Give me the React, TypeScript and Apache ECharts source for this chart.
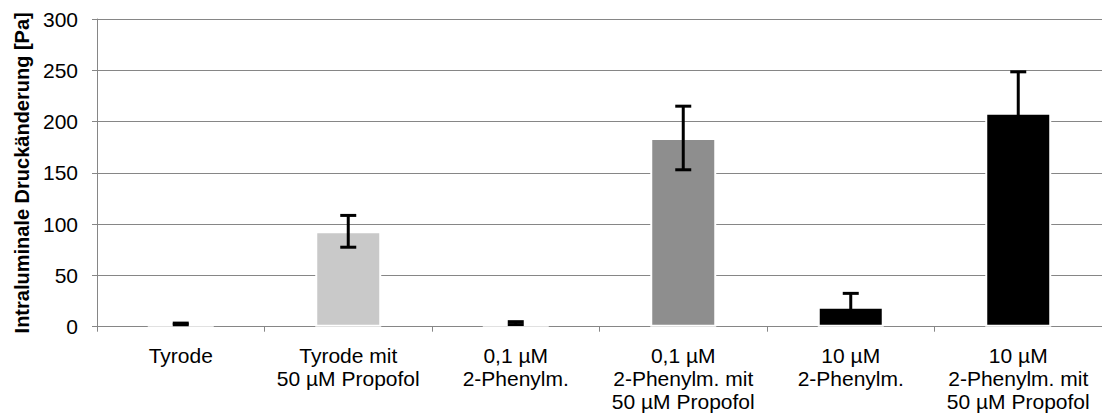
import React, { useEffect, useRef } from "react";
import * as echarts from "echarts";

const categories = [
  "Tyrode",
  "Tyrode mit\n50 µM Propofol",
  "0,1 µM\n2-Phenylm.",
  "0,1 µM\n2-Phenylm. mit\n50 µM Propofol",
  "10 µM\n2-Phenylm.",
  "10 µM\n2-Phenylm. mit\n50 µM Propofol",
];
const meanValues = [2.7, 93, 3.5, 184, 19.5, 208.5];
const errorValues = [0.8, 15.5, 1.4, 31, 13, 40];
const barColors = ["#f4f4f4", "#c9c9c9", "#dcdcdc", "#8e8e8e", "#000000", "#000000"];
const yTicks = { min: 0, max: 300, interval: 50 };
const yAxisTitle = "Intraluminale Druckänderung [Pa]";

export default function App() {
  const ref = useRef<HTMLDivElement>(null);
  useEffect(() => {
    if (!ref.current) return;
    const chart = echarts.init(ref.current, null, { renderer: "svg" });
    const font = "'Liberation Sans', Arial, sans-serif";
    const errData = meanValues.map((v, i) => [
      i,
      Math.max(0, v - errorValues[i]),
      v + errorValues[i],
    ]);
    chart.setOption({
      animation: false,
      backgroundColor: "#ffffff",
      grid: { left: 97, right: -4, top: 19, bottom: 89.3 },
      xAxis: {
        type: "category",
        data: categories,
        axisLine: { lineStyle: { color: "#868686", width: 1 } },
        axisTick: { show: true, length: 5, alignWithLabel: false, lineStyle: { color: "#868686" } },
        axisLabel: {
          color: "#000",
          fontFamily: font,
          fontSize: 21,
          lineHeight: 23,
          margin: 17,
          interval: 0,
        },
      },
      yAxis: {
        type: "value",
        min: yTicks.min,
        max: yTicks.max,
        interval: yTicks.interval,
        name: yAxisTitle,
        nameLocation: "middle",
        nameGap: 63,
        nameTextStyle: { color: "#000", fontFamily: font, fontSize: 20, fontWeight: "bold" },
        axisLine: { show: true, lineStyle: { color: "#868686", width: 1 } },
        axisTick: { show: true, length: 5, lineStyle: { color: "#868686" } },
        axisLabel: { color: "#000", fontFamily: font, fontSize: 21, margin: 19 },
        splitLine: { show: true, lineStyle: { color: "#868686", width: 1 } },
      },
      series: [
        {
          type: "bar",
          barWidth: 66,
          data: meanValues.map((v, i) => ({
            value: v,
            itemStyle: { color: barColors[i], borderColor: "#ffffff", borderWidth: 2 },
          })),
          z: 2,
        },
        {
          type: "custom",
          z: 5,
          data: errData,
          renderItem: (params: any, api: any) => {
            const x = api.value(0);
            const lo = api.coord([x, api.value(1)]);
            const hi = api.coord([x, api.value(2)]);
            const hw = 8;
            const style = { stroke: "#000", lineWidth: 3 };
            return {
              type: "group",
              children: [
                { type: "line", shape: { x1: hi[0], y1: hi[1], x2: lo[0], y2: lo[1] }, style },
                { type: "line", shape: { x1: hi[0] - hw, y1: hi[1], x2: hi[0] + hw, y2: hi[1] }, style },
                { type: "line", shape: { x1: lo[0] - hw, y1: lo[1], x2: lo[0] + hw, y2: lo[1] }, style },
              ],
            };
          },
        },
      ],
    });
    return () => chart.dispose();
  }, []);
  return (
    <div
      ref={ref}
      style={{ position: "fixed", left: 0, top: 0, width: 1102, height: 416, background: "#fff" }}
    />
  );
}
